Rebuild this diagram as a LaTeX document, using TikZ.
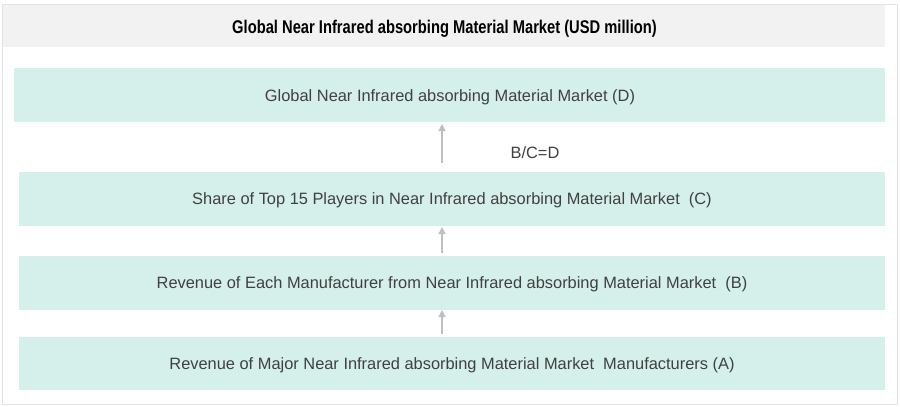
\documentclass[tikz,border=0pt]{standalone}
\usepackage{fontspec}
\setmainfont{Liberation Sans}
\newfontfamily\titlefont[FakeStretch=0.8]{Liberation Sans}
\definecolor{boxfill}{HTML}{D5F0EA}
\definecolor{hdrfill}{HTML}{F2F2F2}
\definecolor{frame}{HTML}{E3E3E3}
\definecolor{txt}{HTML}{404040}
\definecolor{arr}{HTML}{BFBFBF}
\usetikzlibrary{arrows.meta}
\begin{document}
\begin{tikzpicture}[x=1pt,y=-1pt,
  lvl/.style={fill=boxfill,draw=none,inner sep=0pt},
  lbl/.style={font=\fontsize{16.4}{18}\selectfont,text=txt},
  up/.style={draw=arr,line width=1.2pt,-{Triangle[length=7pt,width=7pt]}}]
\useasboundingbox (0,0) rectangle (900,407);
\fill[white] (0,0) rectangle (900,407);
\draw[frame,line width=1pt] (2,4) rectangle (897,404);
\fill[hdrfill] (2.5,4.5) rectangle (885,47);
\node[font=\titlefont\bfseries\fontsize{18.4}{20}\selectfont] (title) at (444.5,28.5) {Global Near Infrared absorbing Material Market (USD million)};
\fill[boxfill] (14,68) rectangle (885,122);
\node[lbl] (D) at (450,97) {Global Near Infrared absorbing Material Market (D)};
\fill[boxfill] (19,172) rectangle (885,226);
\node[lbl] (C) at (452,200.5) {Share of Top 15 Players in Near Infrared absorbing Material Market\ \ (C)};
\fill[boxfill] (19,256) rectangle (885,310);
\node[lbl] (B) at (452,284.5) {Revenue of Each Manufacturer from Near Infrared absorbing Material Market\ \ (B)};
\fill[boxfill] (19,337) rectangle (885,390);
\node[lbl] (A) at (452,365.5) {Revenue of Major Near Infrared absorbing Material Market\ \ Manufacturers (A)};
\coordinate (aD1) at (442,163);
\coordinate (aD2) at (442,124);
\coordinate (aC1) at (442,253);
\coordinate (aC2) at (442,227);
\coordinate (aB1) at (442,334);
\coordinate (aB2) at (442,310);
\draw[up] (aD1) -- (aD2);
\draw[up] (aC1) -- (aC2);
\draw[up] (aB1) -- (aB2);
\node[lbl] (eq) at (535,153) {B/C=D};
\end{tikzpicture}
\end{document}
